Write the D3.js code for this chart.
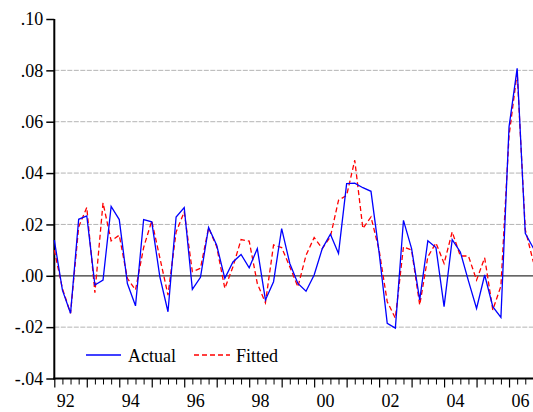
<!DOCTYPE html>
<html>
<head>
<meta charset="utf-8">
<script src="https://cdn.jsdelivr.net/npm/d3@7"></script>
<style>
  html, body { margin: 0; padding: 0; background: #fff; }
  svg { display: block; }
  text { font-family: "Liberation Serif", "DejaVu Serif", serif; font-size: 18px; fill: #000; }
</style>
</head>
<body>
<script>
// Quarterly observations 1992Q1 .. 2006Q4
const startYear = 1992;
const actual = [0.0139, -0.0056, -0.0146, 0.0220, 0.0233, -0.0036, -0.0017, 0.0270, 0.0219, -0.0030,
  -0.0117, 0.0219, 0.0210, -0.0004, -0.0140, 0.0229, 0.0266, -0.0053, -0.0006, 0.0188,
  0.0119, -0.0010, 0.0054, 0.0083, 0.0031, 0.0106, -0.0094, -0.0023, 0.0184, 0.0048,
  -0.0030, -0.0060, 0.0003, 0.0106, 0.0162, 0.0087, 0.0359, 0.0361, 0.0343, 0.0329,
  0.0090, -0.0185, -0.0204, 0.0216, 0.0106, -0.0094, 0.0136, 0.0110, -0.0120, 0.0141,
  0.0093, -0.0020, -0.0127, 0.0003, -0.0120, -0.0162, 0.0580, 0.0808, 0.0165, 0.0107];
const fitted = [0.0100, -0.0050, -0.0146, 0.0190, 0.0266, -0.0066, 0.0284, 0.0136, 0.0158, -0.0010,
  -0.0055, 0.0110, 0.0214, 0.0070, -0.0075, 0.0170, 0.0249, 0.0016, 0.0029, 0.0187,
  0.0113, -0.0049, 0.0035, 0.0141, 0.0135, -0.0030, -0.0105, 0.0120, 0.0110, 0.0035,
  -0.0043, 0.0080, 0.0149, 0.0106, 0.0152, 0.0294, 0.0313, 0.0450, 0.0184, 0.0229,
  0.0100, -0.0101, -0.0165, 0.0113, 0.0100, -0.0114, 0.0074, 0.0128, 0.0048, 0.0171,
  0.0077, 0.0077, -0.0017, 0.0070, -0.0133, -0.0040, 0.0545, 0.0792, 0.0180, 0.0053];
const yTicks = [-0.04, -0.02, 0.00, 0.02, 0.04, 0.06, 0.08, 0.10];
const yTickLabels = ["-.04", "-.02", ".00", ".02", ".04", ".06", ".08", ".10"];
const yearLabels = ["92", "94", "96", "98", "00", "02", "04", "06"];
const seriesNames = ["Actual", "Fitted"];

const W = 533, H = 412;
const mLeft = 54.3, mRight = 533.4, mTop = 19, mBottom = 378.5;

const svg = d3.select("body").append("svg").attr("width", W).attr("height", H);

const n = actual.length;
const x = d3.scaleLinear().domain([0, n - 1]).range([mLeft, mRight]);
const y = d3.scaleLinear().domain([-0.04, 0.10]).range([mBottom, mTop]);

// gridlines
svg.append("g").selectAll("line")
  .data(yTicks.filter(v => v !== 0 && v !== -0.04 && v !== 0.10))
  .join("line")
  .attr("x1", mLeft).attr("x2", W)
  .attr("y1", d => y(d)).attr("y2", d => y(d))
  .attr("stroke", "#b4b4b4").attr("stroke-width", 1)
  .attr("stroke-dasharray", "5,1.5");

// zero line
svg.append("line")
  .attr("x1", mLeft).attr("x2", W)
  .attr("y1", y(0)).attr("y2", y(0))
  .attr("stroke", "#333").attr("stroke-width", 1.3);

// Y axis
const yAxis = d3.axisLeft(y).tickValues(yTicks)
  .tickFormat((d, i) => yTickLabels[i]).tickSize(8).tickPadding(3);
const gy = svg.append("g").attr("transform", `translate(${mLeft},0)`).call(yAxis);
gy.select(".domain").remove();
gy.selectAll(".tick line").attr("stroke", "#000").attr("stroke-width", 1.5);
gy.selectAll(".tick text").style("font-family", '"Liberation Serif", serif').style("font-size", "18px").attr("fill", "#000");
svg.append("line").attr("x1", mLeft).attr("x2", mLeft).attr("y1", mTop).attr("y2", mBottom + 1)
  .attr("stroke", "#000").attr("stroke-width", 2);

// X axis: minor quarterly ticks
const quarterIdx = d3.range(n);
const gxMinor = svg.append("g").attr("transform", `translate(0,${mBottom})`)
  .call(d3.axisBottom(x).tickValues(quarterIdx.filter(i => i % 4 !== 0)).tickSize(6).tickFormat(""));
gxMinor.select(".domain").remove();
gxMinor.selectAll(".tick line").attr("stroke", "#000").attr("stroke-width", 1);

// X axis: year ticks
const yearIdx = quarterIdx.filter(i => i % 4 === 0);
const gxMajor = svg.append("g").attr("transform", `translate(0,${mBottom})`)
  .call(d3.axisBottom(x).tickValues(yearIdx).tickSize(9).tickFormat(""));
gxMajor.select(".domain").remove();
gxMajor.selectAll(".tick line").attr("stroke", "#000").attr("stroke-width", 1.2);

// year labels every 2 years
const labelIdx = yearIdx.filter(i => i % 8 === 0);
svg.append("g").selectAll("text").data(labelIdx).join("text")
  .attr("x", d => x(d) + 2.4).attr("y", 407)
  .attr("text-anchor", "start")
  .text((d, i) => yearLabels[i]);

svg.append("line").attr("x1", mLeft - 1).attr("x2", W).attr("y1", mBottom).attr("y2", mBottom)
  .attr("stroke", "#000").attr("stroke-width", 2);

// series lines
const line = d3.line().x((d, i) => x(i)).y(d => y(d));
svg.append("path").datum(fitted).attr("d", line)
  .attr("fill", "none").attr("stroke", "#ff0000").attr("stroke-width", 1.3)
  .attr("stroke-dasharray", "5,3");
svg.append("path").datum(actual).attr("d", line)
  .attr("fill", "none").attr("stroke", "#0000ff").attr("stroke-width", 1.3);

// legend
const legend = svg.append("g");
const legY = 355;
legend.append("line").attr("x1", 86).attr("x2", 121).attr("y1", legY).attr("y2", legY)
  .attr("stroke", "#0000ff").attr("stroke-width", 1.3);
legend.append("text").attr("x", 128).attr("y", 361.5).text(seriesNames[0]);
legend.append("line").attr("x1", 194).attr("x2", 230).attr("y1", legY).attr("y2", legY)
  .attr("stroke", "#ff0000").attr("stroke-width", 1.3).attr("stroke-dasharray", "5,3");
legend.append("text").attr("x", 236).attr("y", 361.5).text(seriesNames[1]);
</script>
</body>
</html>
